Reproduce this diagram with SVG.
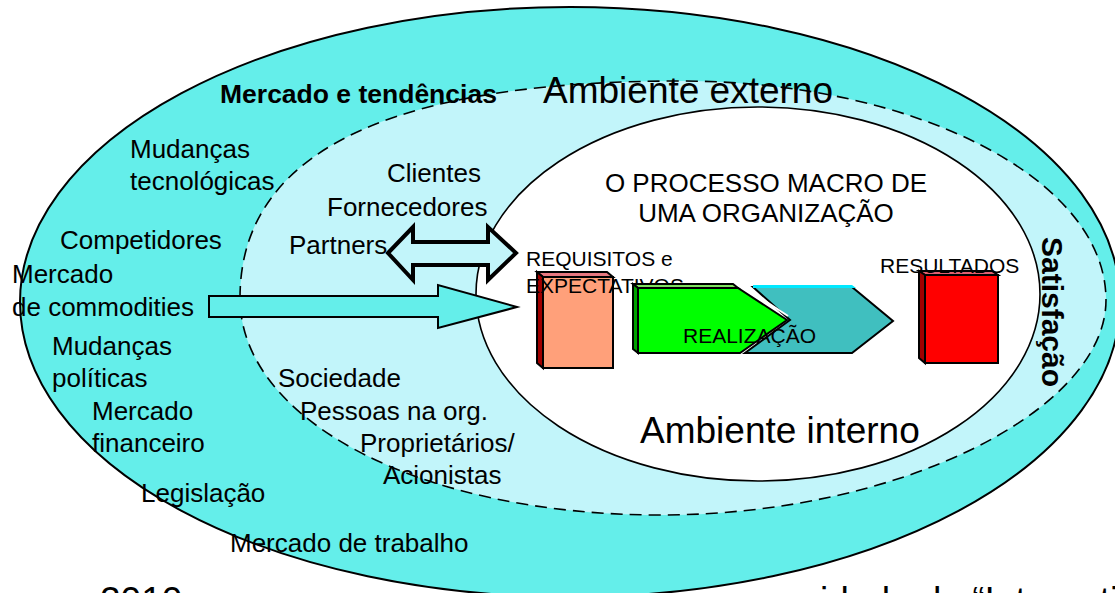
<svg xmlns="http://www.w3.org/2000/svg" width="1115" height="593" viewBox="0 0 1115 593">
<style>
.t{font-family:"Liberation Sans",Arial,sans-serif;font-size:26px;fill:#000}
.s{font-family:"Liberation Sans",Arial,sans-serif;font-size:21px;fill:#000}
.b{font-family:"Liberation Sans",Arial,sans-serif;font-weight:bold;fill:#000}
.big{font-family:"Liberation Sans",Arial,sans-serif;font-size:37px;fill:#000}
.k{stroke:#000;stroke-width:2;stroke-linejoin:miter}
</style>
<rect width="1115" height="593" fill="#fff"/>
<g id="outer">
<ellipse cx="570" cy="302" rx="550" ry="295" fill="#64EEEA" stroke="#000" stroke-width="2"/>
</g>
<g id="middle">
<path d="M240,298 C240,136 425,81 680,81 C915,81 1106,179 1106,300 C1106,410 900,515 660,515 C420,515 240,420 240,298 Z" fill="#C2F5FA" stroke="#000" stroke-width="1.6" stroke-dasharray="12 7"/>
</g>
<g id="inner">
<ellipse cx="758" cy="294" rx="282" ry="187" fill="#fff" stroke="#000" stroke-width="1.6"/>
</g>
<g id="labels-outer">
<text class="b" x="220" y="103" font-size="26.5">Mercado e tendências</text>
<text class="t" x="130" y="158">Mudanças</text>
<text class="t" x="130" y="190">tecnológicas</text>
<text class="t" x="60" y="249">Competidores</text>
<text class="t" x="12" y="283">Mercado</text>
<text class="t" x="12" y="316">de commodities</text>
<text class="t" x="52" y="355">Mudanças</text>
<text class="t" x="52" y="387">políticas</text>
<text class="t" x="92" y="420">Mercado</text>
<text class="t" x="92" y="452">financeiro</text>
<text class="t" x="141" y="502">Legislação</text>
<text class="t" x="230" y="552">Mercado de trabalho</text>
<text class="b" font-size="30" transform="translate(1042,312) rotate(90)" text-anchor="middle">Satisfação</text>
</g>
<g id="labels-middle">
<text class="big" x="543" y="103">Ambiente externo</text>
<text class="t" x="387" y="182">Clientes</text>
<text class="t" x="327" y="216">Fornecedores</text>
<text class="t" x="289" y="254">Partners</text>
<text class="t" x="278" y="387">Sociedade</text>
<text class="t" x="300" y="420">Pessoas na org.</text>
<text class="t" x="360" y="452">Proprietários/</text>
<text class="t" x="383" y="484">Acionistas</text>
</g>
<g id="connectors">
<polygon points="388,253 413,227 413,242 488,242 488,227 516,253 488,280 488,265 413,265 413,280" fill="#C2F5FA" stroke="#000" stroke-width="4" stroke-linejoin="miter"/>
<polygon points="209,296 438,296 438,285 517,307 438,328 438,317 209,317" fill="#64EEEA" stroke="#000" stroke-width="2"/>
</g>
<g id="labels-inner">
<text class="t" x="766" y="192" text-anchor="middle">O PROCESSO MACRO DE</text>
<text class="t" x="766" y="222" text-anchor="middle">UMA ORGANIZAÇÃO</text>
<text class="big" x="640" y="443">Ambiente interno</text>
</g>
<g id="requisitos">
<polygon points="537,272 607,272 613,277 543,277" fill="#E87880" class="k"/>
<polygon points="537,272 543,277 543,368 537,363" fill="#A00000" class="k"/>
<rect x="543" y="277" width="70" height="91" fill="#FFA07A" class="k"/>
<text class="s" x="526" y="266">REQUISITOS e</text>
<text class="s" x="526" y="293">EXPECTATIVOS</text>
</g>
<g id="realizacao">
<polygon points="753,287 852,287 893,321 852,353 745,353 790,320" fill="#40BFBF" class="k"/>
<polygon points="753,285 852,285 856,288 753,288" fill="#00E8FF"/>
<polygon points="633,284 733,284 738,288 638,288" fill="#80E060" class="k"/>
<polygon points="633,284 638,288 638,353 633,349" fill="#00A000" class="k"/>
<polygon points="638,288 738,288 787,320 740,353 638,353" fill="#00FF00" class="k"/>
<line x1="741" y1="285" x2="788" y2="316" stroke="#fff" stroke-width="2"/>
<text class="s" x="683" y="343">REALIZAÇÃO</text>
</g>
<g id="resultados">
<polygon points="919,271 992,271 998,275 925,275" fill="#E06070" class="k"/>
<polygon points="919,271 925,275 925,363 919,358" fill="#A00000" class="k"/>
<rect x="925" y="275" width="73" height="88" fill="#FF0000" class="k"/>
<text class="s" x="880" y="273">RESULTADOS</text>
</g>
<g id="footer">
<text class="big" x="100" y="613">2010</text>
<text class="big" x="820" y="613" font-size="35">idade da “International</text>
</g>
</svg>
